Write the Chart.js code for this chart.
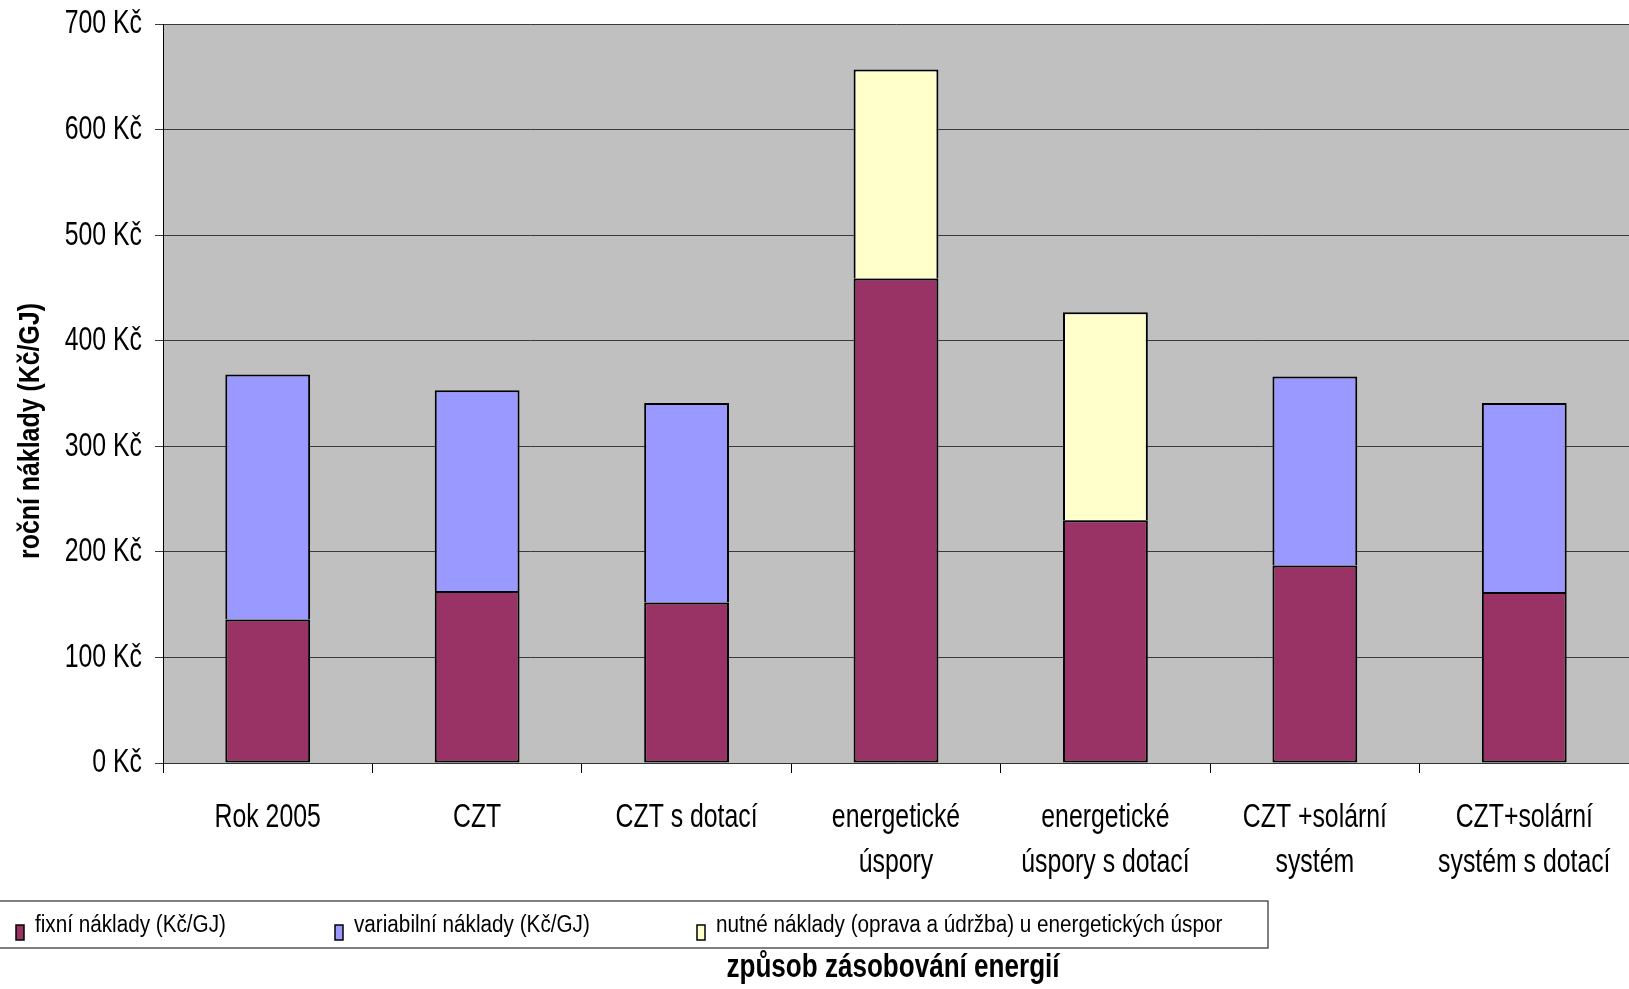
<!DOCTYPE html>
<html>
<head>
<meta charset="utf-8">
<script src="https://cdn.jsdelivr.net/npm/chart.js@4"></script>
<style>
  body { margin: 0; background: #fff; }
  canvas { display: block; }
</style>
</head>
<body>
<canvas id="costChart" width="1629" height="989"></canvas>
<script>
const categories = [
    'Rok 2005',
    'CZT',
    'CZT s dotací',
    ['energetické', 'úspory'],
    ['energetické', 'úspory s dotací'],
    ['CZT +solární', 'systém'],
    ['CZT+solární', 'systém s dotací']
];
const fixedCosts = [136, 163, 152, 459, 230, 187, 162];
const variableCosts = [232, 190, 189, null, null, 179, 179];
const repairCosts = [null, null, null, 198, 197, null, null];
const yTicks = [0, 100, 200, 300, 400, 500, 600, 700];

const FONT = "'Liberation Sans', Arial, sans-serif";

// grey plot background
const backdrop = {
    id: 'backdrop',
    beforeDraw(chart) {
        const { ctx, chartArea: a } = chart;
        ctx.save();
        ctx.fillStyle = '#ffffff';
        ctx.fillRect(0, 0, chart.width, chart.height);
        ctx.fillStyle = '#C0C0C0';
        ctx.fillRect(a.left, a.top, a.right - a.left, a.bottom - a.top);
        ctx.restore();
    }
};

// the original uses a tall narrow font; squeeze the axis tick labels while the scales draw
const squeeze = {
    id: 'squeeze',
    beforeDraw(chart) {
        const ctx = chart.ctx;
        const fill = CanvasRenderingContext2D.prototype.fillText;
        ctx.fillText = function (text, x, y) {
            this.save();
            this.translate(x, y);
            this.scale(0.73, 1);
            fill.call(this, text, 0, 0);
            this.restore();
        };
    },
    beforeDatasetsDraw(chart) {
        delete chart.ctx.fillText;
    }
};

function narrowText(ctx, text, x, y, sx) {
    ctx.save();
    ctx.translate(x, y);
    ctx.scale(sx, 1);
    ctx.fillText(text, 0, 0);
    ctx.restore();
}

// boxed legend + axis titles
const extras = {
    id: 'extras',
    afterDraw(chart) {
        const ctx = chart.ctx;
        ctx.save();

        ctx.strokeStyle = '#555';
        ctx.lineWidth = 1.5;
        ctx.strokeRect(-2, 901, 1270, 47);

        const itemX = [16, 335, 697];
        ctx.font = '23px ' + FONT;
        ctx.textBaseline = 'alphabetic';
        ctx.textAlign = 'left';
        chart.data.datasets.forEach((ds, i) => {
            ctx.fillStyle = ds.backgroundColor;
            ctx.fillRect(itemX[i], 925, 8, 15);
            ctx.strokeStyle = '#000';
            ctx.lineWidth = 1.5;
            ctx.strokeRect(itemX[i], 925, 8, 15);
            ctx.fillStyle = '#000';
            narrowText(ctx, ds.label, itemX[i] + 19, 932, 0.9);
        });

        ctx.font = 'bold 33px ' + FONT;
        ctx.textAlign = 'center';
        narrowText(ctx, 'způsob zásobování energií', 893, 977, 0.79);

        ctx.translate(39, 431);
        ctx.rotate(-Math.PI / 2);
        ctx.font = 'bold 30px ' + FONT;
        narrowText(ctx, 'roční náklady (Kč/GJ)', 0, 0, 0.83);
        ctx.restore();
    }
};

const ctx = document.getElementById('costChart').getContext('2d');

const chart = new Chart(ctx, {
    type: 'bar',
    data: {
        labels: categories,
        datasets: [{
            label: 'fixní náklady (Kč/GJ)',
            data: fixedCosts,
            backgroundColor: '#993366',
            borderColor: '#000',
            borderWidth: 2,
            borderSkipped: false
        }, {
            label: 'variabilní náklady (Kč/GJ)',
            data: variableCosts,
            backgroundColor: '#9999FF',
            borderColor: '#000',
            borderWidth: 2,
            borderSkipped: 'bottom'
        }, {
            label: 'nutné náklady (oprava a údržba) u energetických úspor',
            data: repairCosts,
            backgroundColor: '#FFFFCC',
            borderColor: '#000',
            borderWidth: 2,
            borderSkipped: 'bottom'
        }]
    },
    options: {
        responsive: false,
        animation: false,
        layout: { padding: { top: 24, right: 0, bottom: 0, left: 0 } },
        datasets: {
            bar: { categoryPercentage: 1, barPercentage: 0.405 }
        },
        plugins: {
            legend: { display: false },
            tooltip: { enabled: false }
        },
        scales: {
            x: {
                stacked: true,
                afterFit(scale) {
                    scale.height = 226;
                    scale.paddingLeft = 0;
                    scale.paddingRight = 0;
                },
                grid: {
                    offset: true,
                    drawOnChartArea: false,
                    tickLength: 10,
                    color: '#000'
                },
                border: { color: '#333', width: 1 },
                ticks: {
                    color: '#000',
                    padding: 22,
                    autoSkip: false,
                    maxRotation: 0,
                    font: { family: FONT, size: 34, lineHeight: 1.32 }
                }
            },
            y: {
                stacked: true,
                min: 0,
                max: 700,
                afterFit(scale) {
                    scale.width = 163;
                    scale.paddingTop = 0;
                    scale.paddingBottom = 0;
                },
                afterBuildTicks(scale) {
                    scale.ticks = yTicks.map(v => ({ value: v }));
                },
                grid: {
                    color: '#3a3a3a',
                    tickLength: 8
                },
                border: { color: '#000', width: 1 },
                ticks: {
                    color: '#000',
                    padding: 13,
                    font: { family: FONT, size: 34 },
                    callback: v => v + ' Kč'
                }
            }
        }
    },
    plugins: [backdrop, squeeze, extras]
});
</script>
</body>
</html>
